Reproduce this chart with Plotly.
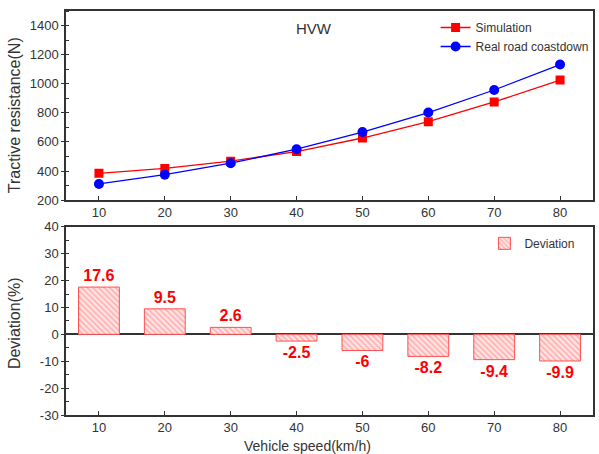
import plotly.graph_objects as go
from plotly.subplots import make_subplots

speeds = [10, 20, 30, 40, 50, 60, 70, 80]
simulation = [384, 418, 468, 534, 627, 739, 875, 1025]
real_road = [311, 375, 454, 550, 668, 802, 957, 1132]
deviation = [17.6, 9.5, 2.6, -2.5, -6, -8.2, -9.4, -9.9]
deviation_labels = ["17.6", "9.5", "2.6", "-2.5", "-6", "-8.2", "-9.4", "-9.9"]
dev_ticks = [-30, -20, -10, 0, 10, 20, 30, 40]
dev_tick_labels = ["-30", "-20", "-10", "0", "10", "20", "30", "40"]
res_ticks = [200, 400, 600, 800, 1000, 1200, 1400]

W, H = 599, 454
ML, MR, MT, MB = 66, 4, 7, 39
PH = H - MT - MB

fig = make_subplots(rows=2, cols=1, vertical_spacing=0.0)

fig.add_trace(go.Scatter(x=speeds, y=simulation, mode="lines+markers", name="Simulation",
                         line=dict(color="#ff0000", width=1.3),
                         marker=dict(symbol="square", size=9, color="#ff0000"),
                         legend="legend"), row=1, col=1)
fig.add_trace(go.Scatter(x=speeds, y=real_road, mode="lines+markers", name="Real road coastdown",
                         line=dict(color="#0000ff", width=1.3),
                         marker=dict(symbol="circle", size=10, color="#0000ff"),
                         legend="legend"), row=1, col=1)
fig.add_trace(go.Bar(x=speeds, y=deviation, name="Deviation", width=6.2,
                     text=deviation_labels, textposition="outside",
                     textfont=dict(family="Liberation Sans, Arial", size=16, color="#ff0000", weight="bold"),
                     cliponaxis=False,
                     marker=dict(color="#ffe3e3",
                                 line=dict(color="#ff5050", width=1),
                                 pattern=dict(shape="\\", fgcolor="#ff6a6a", bgcolor="#ffe3e3",
                                              size=4, solidity=0.35)),
                     legend="legend2"), row=2, col=1)

axis_font = dict(family="Liberation Sans, Arial", size=13, color="#333333")
common = dict(showline=True, mirror=True, linecolor="#333333", linewidth=1.5,
              showgrid=False, tickfont=axis_font)

top_bottom = (415 - 198) / PH
bot_top = (415 - 225) / PH

fig.update_xaxes(range=[5, 85], tickvals=speeds, ticks="inside", ticklen=4,
                 tickcolor="#333333", zeroline=False, **common)
fig.update_layout(
    xaxis=dict(domain=[0, 1], anchor="y"),
    yaxis=dict(domain=[top_bottom, 1], range=[200, 1500], tickvals=res_ticks,
               ticks="outside", ticklen=3, tickcolor="#333333", zeroline=False,
               minor=dict(dtick=100, ticks="inside", ticklen=3, tickcolor="#333333"), **common),
    xaxis2=dict(domain=[0, 1], anchor="y2"),
    yaxis2=dict(domain=[0, bot_top], range=[-30, 40], tickvals=dev_ticks, ticktext=dev_tick_labels,
                ticks="outside", ticklen=3, tickcolor="#333333",
                minor=dict(dtick=5, ticks="inside", ticklen=3, tickcolor="#333333"),
                zeroline=True, zerolinecolor="#333333", zerolinewidth=1.5, **common),
)

fig.update_layout(
    width=W, height=H,
    margin=dict(l=ML, r=MR, t=MT, b=MB),
    paper_bgcolor="white", plot_bgcolor="white",
    font=dict(family="Liberation Sans, Arial", color="#333333"),
    legend=dict(x=(437 - ML) / (W - ML - MR), y=(415 - 9) / PH, xanchor="left", yanchor="top",
                bgcolor="rgba(0,0,0,0)", font=dict(size=12, color="#333333"),
                tracegroupgap=0, itemwidth=30),
    legend2=dict(x=(486 - ML) / (W - ML - MR), y=(415 - 227) / PH, xanchor="left", yanchor="top",
                 bgcolor="rgba(0,0,0,0)", font=dict(size=12, color="#333333"), itemwidth=30),
    showlegend=True,
    annotations=[
        dict(text="HVW", x=(315 - ML) / (W - ML - MR), y=(415 - 25) / PH, xref="paper", yref="paper",
             showarrow=False, font=dict(size=15, color="#333333"), xanchor="center", yanchor="middle"),
        dict(text="Tractive resistance(N)", x=-(ML - 15) / (W - ML - MR), y=(415 - 112) / PH,
             xref="paper", yref="paper", textangle=-90, showarrow=False,
             font=dict(size=16, color="#333333"), xanchor="center", yanchor="middle"),
        dict(text="Deviation(%)", x=-(ML - 15) / (W - ML - MR), y=(415 - 322) / PH,
             xref="paper", yref="paper", textangle=-90, showarrow=False,
             font=dict(size=16, color="#333333"), xanchor="center", yanchor="middle"),
        dict(text="Vehicle speed(km/h)", x=(308 - ML) / (W - ML - MR), y=(415 - 455) / PH,
             xref="paper", yref="paper", showarrow=False, borderpad=0,
             font=dict(size=14, color="#333333"), xanchor="center", yanchor="bottom"),
    ],
)

fig.write_html("out.html")
